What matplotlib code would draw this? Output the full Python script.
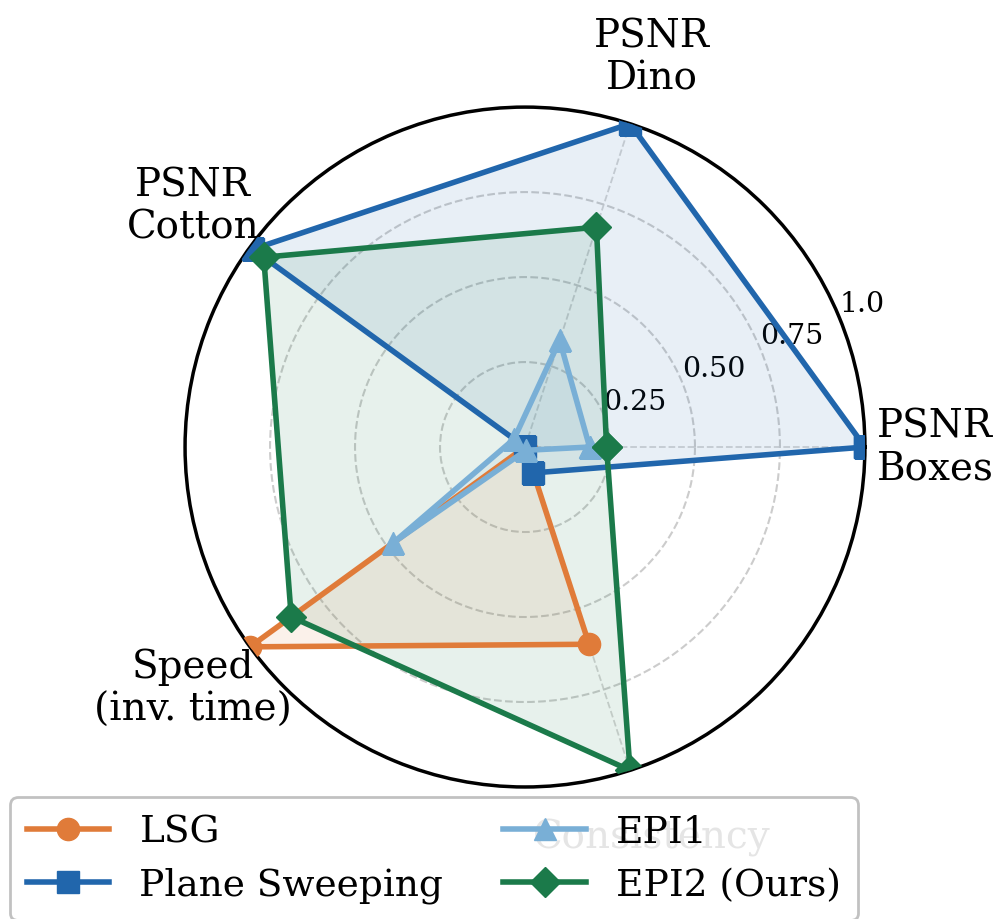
import numpy as np
import matplotlib
matplotlib.use("Agg")
import matplotlib.pyplot as plt

plt.rcParams['font.family'] = ['DejaVu Serif']

# axes of the radar, counter-clockwise from the right
categories = ["PSNR\nBoxes", "PSNR\nDino", "PSNR\nCotton", "Speed\n(inv. time)", "Consistency"]

# normalised scores per method (same order as categories)
lsg = [0.0, 0.0, 0.0, 1.0, 0.61]
plane_sweeping = [1.0, 1.0, 0.99, 0.0, 0.08]
epi1 = [0.19, 0.33, 0.04, 0.48, 0.01]
epi2 = [0.24, 0.68, 0.95, 0.85, 1.0]

r_ticks = [0.25, 0.5, 0.75, 1.0]
r_tick_labels = ["0.25", "0.50", "0.75", "1.0"]

series = [
    ("LSG", lsg, "#e07b39", "o"),
    ("Plane Sweeping", plane_sweeping, "#2166ac", "s"),
    ("EPI1", epi1, "#79afd6", "^"),
    ("EPI2 (Ours)", epi2, "#1b7a4a", "D"),
]

n = len(categories)
angles = np.linspace(0, 2 * np.pi, n, endpoint=False)
closed = np.append(angles, angles[0])

fig = plt.figure(figsize=(10, 9.2), dpi=100)
ax = fig.add_axes([0.185, 0.1435, 0.68, 0.739], projection="polar")

for name, vals, color, marker in series:
    v = np.append(vals, vals[0])
    ms = 16 if marker != "D" else 15
    ax.plot(closed, v, color=color, lw=4, marker=marker, ms=ms, label=name, zorder=3)
    ax.fill(closed, v, color=color, alpha=0.1, zorder=2)

ax.set_ylim(0, 1.0)
ax.set_rgrids(r_ticks, labels=r_tick_labels, angle=22.5, fontsize=20.5)
ax.set_xticks(angles)
ax.set_xticklabels(categories, fontsize=28)
ax.tick_params(axis="x", pad=40)
ax.yaxis.grid(True, color="#cccccc", linestyle="--", linewidth=1.5)
ax.xaxis.grid(True, color="#d5d5d5", linestyle="--", linewidth=1.3)
ax.spines["polar"].set_linewidth(2.5)
ax.spines["polar"].set_color("black")

leg = fig.legend(loc="upper left", bbox_to_anchor=(0.01, 1 - 798 / 920), ncol=2,
                 fontsize=27, framealpha=0.9, handlelength=2.2, columnspacing=1.6,
                 borderpad=0.45, labelspacing=0.45, borderaxespad=0,
                 edgecolor="#bbbbbb")
leg.get_frame().set_linewidth(2)

plt.savefig("out.png", dpi=100)
